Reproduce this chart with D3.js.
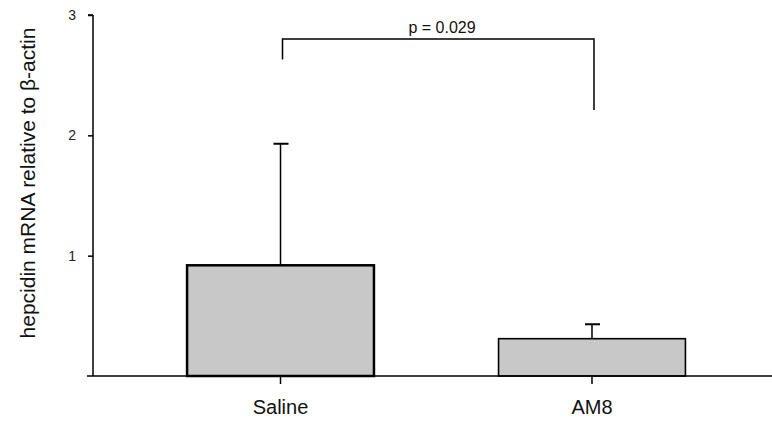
<!DOCTYPE html>
<html>
<head>
<meta charset="utf-8">
<script src="https://cdn.jsdelivr.net/npm/d3@7"></script>
<style>
  body { margin: 0; background: #fff; }
  svg { display: block; font-family: "Liberation Sans", Arial, sans-serif; }
</style>
</head>
<body>
<div id="chart"></div>
<script>
// data
var groups = ["Saline", "AM8"];
var means = [0.92, 0.31];
var errs = [1.01, 0.12];          // upper error (SD)
var yTicks = [1, 2, 3];
var pLabel = "p = 0.029";
var bracketEnds = [2.63, 2.21];   // lower ends of the bracket legs
var bracketTop = 2.80;

var w = 772, h = 424;
var svg = d3.select("#chart").append("svg")
  .attr("width", w)
  .attr("height", h);

var y = d3.scaleLinear().domain([0, 3]).range([376, 15]);
var x = d3.scaleBand().domain(groups).range([93, 779.5])
  .paddingInner(0.4).paddingOuter(0.302);

var dataset = groups.map(function(g, i) {
  return { name: g, value: means[i], err: errs[i] };
});

// bars
svg.selectAll("rect.bar")
  .data(dataset)
  .enter()
  .append("rect")
  .attr("class", "bar")
  .attr("x", function(d) { return x(d.name); })
  .attr("y", function(d) { return y(d.value); })
  .attr("width", x.bandwidth())
  .attr("height", function(d) { return y(0) - y(d.value); })
  .attr("fill", "#c8c8c8")
  .attr("stroke", "#000")
  .attr("stroke-width", function(d, i) { return i == 0 ? 2.5 : 1.6; });

// error bars (upper only)
var cx = function(d) { return x(d.name) + x.bandwidth() / 2; };
svg.selectAll("line.err")
  .data(dataset)
  .enter()
  .append("line")
  .attr("x1", cx).attr("x2", cx)
  .attr("y1", function(d) { return y(d.value); })
  .attr("y2", function(d) { return y(d.value + d.err); })
  .attr("stroke", "#000").attr("stroke-width", 1.5);
svg.selectAll("line.cap")
  .data(dataset)
  .enter()
  .append("line")
  .attr("x1", function(d) { return cx(d) - 7; })
  .attr("x2", function(d) { return cx(d) + 8; })
  .attr("y1", function(d) { return y(d.value + d.err); })
  .attr("y2", function(d) { return y(d.value + d.err); })
  .attr("stroke", "#000").attr("stroke-width", 2);

// y axis
var yAxis = svg.append("g")
  .attr("transform", "translate(93,0)")
  .call(d3.axisLeft(y).tickValues(yTicks).tickSize(5).tickPadding(12).tickFormat(d3.format("d")));
yAxis.select(".domain").attr("d", "M0," + y(3) + "H0V" + y(0)).attr("stroke-width", 1.5);
yAxis.selectAll(".tick line").attr("stroke-width", 1.5);
yAxis.selectAll(".tick text").attr("font-size", 14).attr("fill", "#222");
// little tick at the top is from the domain line end
yAxis.append("line").attr("x1", -5).attr("x2", 0).attr("y1", y(3)).attr("y2", y(3))
  .attr("stroke", "#000").attr("stroke-width", 1.5);

// x axis
var xAxis = svg.append("g")
  .attr("transform", "translate(0," + y(0) + ")")
  .call(d3.axisBottom(x).tickSize(8).tickPadding(16));
xAxis.select(".domain").attr("d", "M87,0H772").attr("stroke-width", 1.5);
xAxis.selectAll(".tick line").attr("stroke-width", 1.5);
xAxis.selectAll(".tick text").attr("font-size", 20).attr("fill", "#111");

// y label
svg.append("text")
  .attr("transform", "translate(35," + 183 + ") rotate(-90)")
  .attr("text-anchor", "middle")
  .attr("font-size", 21)
  .attr("fill", "#111")
  .text("hepcidin mRNA relative to β-actin");

// significance bracket
var bx0 = cx(dataset[0]) + 2, bx1 = cx(dataset[1]) + 2;
svg.append("path")
  .attr("d", "M" + bx0 + "," + y(bracketEnds[0]) + "V" + y(bracketTop) +
             "H" + bx1 + "V" + y(bracketEnds[1]))
  .attr("fill", "none").attr("stroke", "#000").attr("stroke-width", 1.5);
svg.append("text")
  .attr("x", 442)
  .attr("y", y(bracketTop) - 6)
  .attr("text-anchor", "middle")
  .attr("font-size", 16)
  .attr("fill", "#111")
  .text(pLabel);
</script>
</body>
</html>
